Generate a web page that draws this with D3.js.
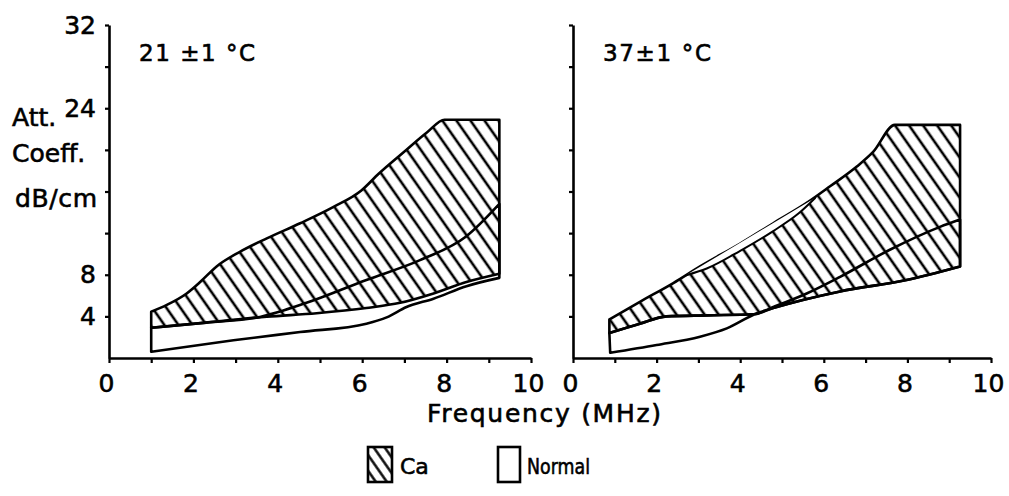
<!DOCTYPE html>
<html>
<head>
<meta charset="utf-8">
<script src="https://cdn.jsdelivr.net/npm/d3@7"></script>
<style>
body { margin: 0; background: #fff; }
text { font-family: "DejaVu Sans", sans-serif; fill: #000; stroke: #000; stroke-width: 0.6px; }
</style>
</head>
<body>
<svg id="main" width="1009" height="496"></svg>
<script>
// ---- data (frequency MHz, attenuation dB/cm) ----
var xTicks = [0, 1, 2, 3, 4, 5, 6, 7, 8, 9, 10];
var xTickLabels = [0, 2, 4, 6, 8, 10];
var yTicks = [4, 8, 12, 16, 20, 24, 28, 32];
var yTickLabels = [4, 8, 24, 32];
var panelLabels = ["21 \u00b11  \u00b0C", "37\u00b11 \u00b0C"];

// 21 C
var caUpper21 = [[1, 4.45], [1.37, 5.1], [1.84, 6.2], [2.16, 7.3], [2.55, 8.8], [3.1, 10.2], [3.74, 11.5],
  [4.53, 12.95], [5.31, 14.5], [5.98, 16.1], [6.39, 17.7], [6.96, 19.7], [7.54, 21.7], [7.95, 22.9], [9.25, 22.9]];
var caLower21 = [[1, 2.9], [2.3, 3.4], [3.74, 3.97], [4.92, 4.3], [6.1, 4.8], [6.9, 5.3], [7.69, 6.2],
  [8.47, 7.3], [9.25, 8.1]];
var normUpper21 = [[1, 2.9], [2.3, 3.4], [3.6, 3.97], [4.68, 5.3], [6.1, 7.5], [7.37, 9.4], [8.47, 11.7], [9.25, 14.8]];
var normLower21 = [[1, 0.6], [2.95, 1.7], [4.53, 2.5], [6.1, 3.3], [6.58, 3.9], [7.05, 4.9], [7.69, 5.7],
  [8.47, 6.9], [9.25, 7.7]];

// 37 C
var caUpper37 = [[0.87, 3.7], [1.6, 5.4], [2.4, 7.2], [3.04, 8.8], [4.0, 11.0], [4.79, 12.95], [5.59, 14.9],
  [6.15, 16.5], [6.79, 18.4], [7.18, 19.8], [7.7, 22.4], [9.26, 22.4]];
var caInner37 = [[2.7, 7.95], [3.2, 8.6], [4.0, 10.3], [4.79, 12.2], [5.4, 13.9], [5.8, 15.4]];
var caLower37 = [[0.87, 2.4], [1.6, 3.3], [2.24, 4.0], [3.2, 4.1], [4.32, 4.2], [4.79, 4.8], [6.39, 6.4],
  [7.98, 7.5], [9.26, 8.8]];
var normUpper37 = [[0.87, 2.4], [1.6, 3.3], [2.24, 4.0], [3.2, 4.1], [4.32, 4.2], [4.79, 4.9], [5.59, 6.2],
  [6.39, 7.8], [7.58, 10.4], [8.78, 12.6], [9.26, 13.3]];
var normLower37 = [[0.89, 0.5], [2.0, 1.25], [3.04, 2.05], [3.68, 2.85], [4.4, 4.3], [4.79, 4.8], [6.39, 6.4],
  [7.98, 7.5], [9.26, 8.8]];

var legendItems = ["Ca", "Normal"];

// ---- drawing ----
var svg = d3.select("#main");
var y = d3.scaleLinear().domain([0, 32]).range([358, 25]);
var xLeft = d3.scaleLinear().domain([0, 10]).range([109, 531]);
var xRight = d3.scaleLinear().domain([0, 10]).range([573, 991]);

var defs = svg.append("defs");
function hatch(id, gap, w) {
  var p = defs.append("pattern").attr("id", id)
    .attr("patternUnits", "userSpaceOnUse")
    .attr("width", gap).attr("height", gap)
    .attr("patternTransform", "rotate(-35)");
  p.append("line").attr("x1", gap / 2).attr("y1", -1).attr("x2", gap / 2).attr("y2", gap + 1)
    .attr("stroke", "#000").attr("stroke-width", w);
}
hatch("hatch", 11.5, 2.6);
hatch("hatchKey", 9, 2.4);

function lineFn(x) {
  return d3.line().x(function(d) { return x(d[0]); }).y(function(d) { return y(d[1]); })
    .curve(d3.curveMonotoneX);
}
function band(x, upper, lower) {
  var l = lineFn(x);
  return l(upper) + "L" + l(lower.slice().reverse()).slice(1) + "Z";
}

function axes(x, showLabels) {
  var gx = svg.append("g").attr("transform", "translate(0," + y(0) + ")")
    .call(d3.axisBottom(x).tickValues(xTicks).tickSize(5).tickSizeOuter(0).tickPadding(11)
      .tickFormat(function(d) { return xTickLabels.indexOf(d) >= 0 ? d : ""; }));
  var gy = svg.append("g").attr("transform", "translate(" + x(0) + ",0)")
    .call(d3.axisLeft(y).tickValues(yTicks).tickSize(4).tickSizeOuter(0).tickPadding(9)
      .tickFormat(function(d) { return showLabels && yTickLabels.indexOf(d) >= 0 ? d : ""; }));
  [gx, gy].forEach(function(g) {
    g.attr("font-family", null).attr("font-size", null);
    g.select(".domain").attr("stroke", "#000").attr("stroke-width", 2.6);
    g.selectAll(".tick line").attr("stroke", "#000").attr("stroke-width", 2.2);
    g.selectAll(".tick text").attr("font-size", 25).attr("fill", "#000");
  });
  gx.selectAll(".tick text").attr("dx", -3);
}

function panel(x, caUpper, caLower, normUpper, normLower, label, labelWidth) {
  svg.append("path").attr("d", band(x, caUpper, caLower))
    .attr("fill", "url(#hatch)").attr("stroke", "#000").attr("stroke-width", 2.6)
    .attr("stroke-linejoin", "round");
  svg.append("path").attr("d", band(x, normUpper, normLower))
    .attr("fill", "none").attr("stroke", "#000").attr("stroke-width", 2.6)
    .attr("stroke-linejoin", "round");
  svg.append("text").attr("x", x(0) + 30).attr("y", 61).attr("font-size", 23)
    .attr("textLength", labelWidth).attr("lengthAdjust", "spacing").text(label);
}

axes(xLeft, true);
axes(xRight, false);
panel(xLeft, caUpper21, caLower21, normUpper21, normLower21, panelLabels[0], 116);
panel(xRight, caUpper37, caLower37, normUpper37, normLower37, panelLabels[1], 108);

// thin unhatched lens along the upper edge of the 37 C band
var innerPath = lineFn(xRight)(caInner37);
svg.append("path").attr("d", innerPath)
  .attr("fill", "#fff").attr("stroke", "#000").attr("stroke-width", 2);

// y axis title
var yt = svg.append("g").attr("font-size", 25);
yt.append("text").attr("x", 12).attr("y", 126).text("Att.");
yt.append("text").attr("x", 12).attr("y", 162).text("Coeff.");
yt.append("text").attr("x", 15).attr("y", 207).attr("textLength", 82).attr("lengthAdjust", "spacing").text("dB/cm");

// x axis title
svg.append("text").attr("x", 427).attr("y", 422).attr("font-size", 25)
  .attr("textLength", 234).attr("lengthAdjust", "spacing")
  .text("Frequency  (MHz)");

// legend
var lg = svg.append("g");
lg.append("rect").attr("x", 368).attr("y", 447).attr("width", 24).attr("height", 35)
  .attr("fill", "url(#hatchKey)").attr("stroke", "#000").attr("stroke-width", 2.6);
lg.append("text").attr("x", 400).attr("y", 474).attr("font-size", 22).text(legendItems[0]);
lg.append("rect").attr("x", 498).attr("y", 447).attr("width", 22).attr("height", 35)
  .attr("fill", "#fff").attr("stroke", "#000").attr("stroke-width", 2.6);
lg.append("text").attr("x", 527).attr("y", 474).attr("font-size", 21)
  .attr("textLength", 63).attr("lengthAdjust", "spacingAndGlyphs").text(legendItems[1]);
</script>
</body>
</html>
